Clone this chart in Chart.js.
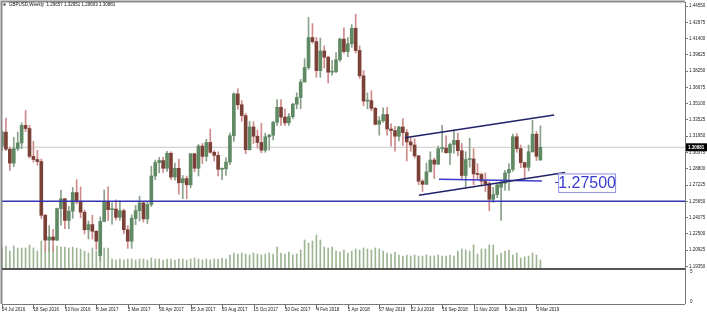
<!DOCTYPE html>
<html>
<head>
<meta charset="utf-8">
<title>GBPUSD Weekly</title>
<script src="https://cdn.jsdelivr.net/npm/chart.js@4.4.1/dist/chart.umd.min.js"></script>
<style>
  html, body { margin: 0; padding: 0; background: #fff; }
  canvas { display: block; }
</style>
</head>
<body>
<canvas id="chart" width="707" height="315"></canvas>
<script>
// weekly candles, 24 Jul 2016 .. 10 Mar 2019
const opens = [
  1.3100, 1.3235, 1.3070, 1.2935, 1.3075, 1.3130, 1.3300, 1.3270, 1.3000, 1.2970,
  1.2950, 1.2430, 1.2190, 1.2220, 1.2190, 1.2495, 1.2590, 1.2380, 1.2470, 1.2650,
  1.2560, 1.2460, 1.2290, 1.2340, 1.2275, 1.2040, 1.2370, 1.2560, 1.2485, 1.2490,
  1.2410, 1.2475, 1.2290, 1.2180, 1.2400, 1.2475, 1.2550, 1.2395, 1.2535, 1.2810,
  1.2940, 1.2960, 1.2885, 1.3030, 1.2800, 1.2885, 1.2745, 1.2785, 1.2725, 1.3025,
  1.2885, 1.3100, 1.3000, 1.3135, 1.3040, 1.3010, 1.2875, 1.2880, 1.2945, 1.3200,
  1.3605, 1.3500, 1.3395, 1.3065, 1.3285, 1.3195, 1.3135, 1.3060, 1.3190, 1.3205,
  1.3330, 1.3475, 1.3380, 1.3325, 1.3385, 1.3505, 1.3570, 1.3720, 1.3860, 1.4150,
  1.4110, 1.3830, 1.4020, 1.3960, 1.3815, 1.3820, 1.3935, 1.4135, 1.4015, 1.4090,
  1.4240, 1.4025, 1.3780, 1.3535, 1.3540, 1.3465, 1.3310, 1.3345, 1.3405, 1.3265,
  1.3250, 1.3195, 1.3285, 1.3230, 1.3140, 1.3110, 1.3005, 1.2760, 1.2730, 1.2850,
  1.2965, 1.2925, 1.3075, 1.3080, 1.3035, 1.3115, 1.3155, 1.3055, 1.2815, 1.2970,
  1.2975, 1.2830, 1.2825, 1.2760, 1.2735, 1.2585, 1.2630, 1.2700, 1.2740, 1.2840,
  1.2875, 1.3190, 1.3075, 1.2940, 1.2895, 1.3045, 1.3215, 1.29657
];
const highs = [
  1.3250, 1.3370, 1.3090, 1.3185, 1.3235, 1.3325, 1.3445, 1.3300, 1.3145, 1.3060,
  1.2975, 1.2440, 1.2330, 1.2295, 1.2500, 1.2675, 1.2595, 1.2515, 1.2700, 1.2775,
  1.2705, 1.2480, 1.2375, 1.2430, 1.2285, 1.2415, 1.2675, 1.2705, 1.2550, 1.2580,
  1.2570, 1.2490, 1.2330, 1.2435, 1.2525, 1.2615, 1.2555, 1.2565, 1.2905, 1.2965,
  1.2990, 1.2990, 1.3050, 1.3045, 1.2935, 1.2975, 1.2815, 1.2810, 1.3030, 1.3030,
  1.3115, 1.3125, 1.3165, 1.3265, 1.3055, 1.3045, 1.2890, 1.2985, 1.3225, 1.3615,
  1.3655, 1.3540, 1.3415, 1.3340, 1.3335, 1.3255, 1.3320, 1.3225, 1.3215, 1.3340,
  1.3550, 1.3550, 1.3460, 1.3415, 1.3515, 1.3615, 1.3745, 1.3945, 1.4345, 1.4285,
  1.4150, 1.4145, 1.4070, 1.3970, 1.3930, 1.4005, 1.4145, 1.4245, 1.4150, 1.4275,
  1.4377, 1.4070, 1.3830, 1.3615, 1.3635, 1.3475, 1.3385, 1.3470, 1.3475, 1.3315,
  1.3290, 1.3290, 1.3365, 1.3260, 1.3180, 1.3170, 1.3010, 1.2775, 1.2935, 1.3045,
  1.2985, 1.3100, 1.3300, 1.3200, 1.3130, 1.3255, 1.3225, 1.3125, 1.3045, 1.3175,
  1.3075, 1.2930, 1.2840, 1.2840, 1.2755, 1.2700, 1.2730, 1.2770, 1.2865, 1.2930,
  1.3215, 1.3220, 1.3110, 1.2945, 1.3110, 1.3350, 1.3240, 1.32951
];
const lows = [
  1.3055, 1.3055, 1.2865, 1.2900, 1.3055, 1.3075, 1.3240, 1.2985, 1.2945, 1.2915,
  1.2400, 1.2085, 1.2085, 1.2080, 1.2185, 1.2335, 1.2300, 1.2300, 1.2400, 1.2540,
  1.2405, 1.2250, 1.2200, 1.2200, 1.2100, 1.1986, 1.2370, 1.2380, 1.2345, 1.2385,
  1.2380, 1.2250, 1.2110, 1.2110, 1.2340, 1.2375, 1.2365, 1.2350, 1.2515, 1.2775,
  1.2840, 1.2845, 1.2855, 1.2775, 1.2770, 1.2635, 1.2590, 1.2590, 1.2695, 1.2850,
  1.2810, 1.2930, 1.2955, 1.3030, 1.2955, 1.2810, 1.2775, 1.2815, 1.2920, 1.3145,
  1.3455, 1.3340, 1.3025, 1.3060, 1.3125, 1.3080, 1.3035, 1.3040, 1.3060, 1.3160,
  1.3300, 1.3300, 1.3300, 1.3300, 1.3365, 1.3460, 1.3460, 1.3720, 1.3840, 1.4095,
  1.3765, 1.3765, 1.3855, 1.3710, 1.3785, 1.3810, 1.3920, 1.4000, 1.3965, 1.4055,
  1.4000, 1.3755, 1.3490, 1.3460, 1.3440, 1.3305, 1.3205, 1.3330, 1.3205, 1.3100,
  1.3050, 1.3150, 1.3105, 1.2955, 1.3050, 1.2985, 1.2725, 1.2660, 1.2725, 1.2850,
  1.2785, 1.2920, 1.3040, 1.3030, 1.2920, 1.3030, 1.3005, 1.2775, 1.2695, 1.2895,
  1.2725, 1.2775, 1.2715, 1.2660, 1.2475, 1.2555, 1.2600, 1.2380, 1.2670, 1.2670,
  1.2855, 1.3040, 1.2890, 1.2775, 1.2860, 1.3040, 1.2960, 1.29603
];
const closes = [
  1.3235, 1.3070, 1.2935, 1.3075, 1.3130, 1.3300, 1.3270, 1.3000, 1.2970, 1.2950,
  1.2430, 1.2190, 1.2220, 1.2190, 1.2495, 1.2590, 1.2380, 1.2470, 1.2650, 1.2560,
  1.2460, 1.2290, 1.2340, 1.2275, 1.2180, 1.2370, 1.2560, 1.2485, 1.2490, 1.2410,
  1.2475, 1.2290, 1.2180, 1.2400, 1.2475, 1.2550, 1.2395, 1.2535, 1.2810, 1.2940,
  1.2960, 1.2885, 1.3030, 1.2800, 1.2885, 1.2745, 1.2785, 1.2725, 1.3025, 1.2885,
  1.3100, 1.3000, 1.3135, 1.3040, 1.3010, 1.2875, 1.2880, 1.2945, 1.3200, 1.3605,
  1.3500, 1.3395, 1.3065, 1.3285, 1.3195, 1.3135, 1.3060, 1.3190, 1.3205, 1.3330,
  1.3475, 1.3380, 1.3325, 1.3385, 1.3505, 1.3570, 1.3720, 1.3860, 1.4150, 1.4110,
  1.3830, 1.4020, 1.3960, 1.3815, 1.3820, 1.3935, 1.4135, 1.4015, 1.4090, 1.4240,
  1.4025, 1.3780, 1.3535, 1.3540, 1.3465, 1.3310, 1.3345, 1.3405, 1.3265, 1.3250,
  1.3195, 1.3285, 1.3230, 1.3140, 1.3110, 1.3005, 1.2760, 1.2730, 1.2850, 1.2965,
  1.2925, 1.3075, 1.3080, 1.3035, 1.3115, 1.3155, 1.3055, 1.2815, 1.2970, 1.2975,
  1.2830, 1.2825, 1.2760, 1.2735, 1.2585, 1.2630, 1.2725, 1.2740, 1.2840, 1.2875,
  1.3190, 1.3075, 1.2940, 1.2895, 1.3045, 1.3215, 1.3000, 1.30881
];
// tick volume, thousands
const volumes = [
  100, 110, 85, 110, 100, 100, 100, 115, 100, 85,
  135, 110, 95, 100, 110, 105, 105, 100, 105, 100,
  95, 85, 75, 100, 85, 110, 100, 100,
  45, 40, 45, 40, 45, 45, 40, 45, 45, 40, 50, 45, 45, 40, 45,
  45, 40, 45, 45, 40, 45, 50, 45, 40, 45, 40, 45, 45, 50, 45,
  65, 75, 70, 75, 70, 65, 75, 70, 65, 70, 75, 70,
  105, 75, 70, 80, 65, 70, 90,
  140, 125, 135, 165, 140, 105, 100, 105, 85, 80, 90, 75, 85,
  95, 90, 100, 95, 90, 100, 95, 85, 75, 70, 80, 65,
  60, 65, 60, 65, 60, 60, 65, 60, 60, 65, 60, 60, 65, 60,
  85, 95, 90, 85, 115, 70, 95, 95, 115, 115, 65,
  75, 85, 90, 65, 75, 50, 55, 60, 75, 65, 40
];
// x axis labels, one every 8 weeks
const dateTicks = [
  '24 Jul 2016', '18 Sep 2016', '13 Nov 2016', '8 Jan 2017', '5 Mar 2017', '30 Apr 2017',
  '25 Jun 2017', '20 Aug 2017', '15 Oct 2017', '10 Dec 2017', '4 Feb 2018', '1 Apr 2018',
  '27 May 2018', '22 Jul 2018', '16 Sep 2018', '11 Nov 2018', '6 Jan 2019', '3 Mar 2019'
];
const priceTicks = [
  1.19350, 1.20925, 1.22500, 1.24075, 1.25650, 1.27225, 1.28800, 1.30375, 1.31950,
  1.33525, 1.35100, 1.36675, 1.38250, 1.39825, 1.41400, 1.42975, 1.44550
];
// drawn objects: trend channel, level, support
const channelUpper = [{ x: 102.5, y: 1.3180 }, { x: 140.5, y: 1.3400 }];
const channelLower = [{ x: 106.1, y: 1.2625 }, { x: 143.3, y: 1.2845 }];
const levelLine = [{ x: 111.2, y: 1.2780 }, { x: 137.4, y: 1.2761 }];
const supportLevel = 1.2565;
const levelText = '1.27500';
const levelTextPos = { x: 141.5, y: 1.2835 };

const X_MIN = 0, X_MAX = 173.8;
const BULL = '#5f8a63', BEAR = '#7b4136';
const BULL_WICK = '#8aa08a', BEAR_WICK = '#cf8a8a';
const FONT = 'Liberation Sans';

const idx = opens.map((_, i) => i);
const last = closes.length - 1;
const isUp = i => closes[i] >= opens[i];

const mtFrame = {
  id: 'mtFrame',
  afterDraw(chart) {
    const { ctx, chartArea: a, scales: { x, y } } = chart;
    const subBottom = a.bottom + 36;
    ctx.save();

    // outer frame + sub window
    ctx.strokeStyle = '#8a8a8a';
    ctx.lineWidth = 2;
    ctx.beginPath();
    ctx.moveTo(a.left - 0.5, subBottom);
    ctx.lineTo(a.left - 0.5, a.top - 0.5);
    ctx.lineTo(a.right, a.top - 0.5);
    ctx.stroke();
    ctx.lineWidth = 1;
    ctx.strokeStyle = '#777';
    ctx.beginPath();
    ctx.moveTo(a.right + 0.5, a.bottom);
    ctx.lineTo(a.right + 0.5, subBottom);
    ctx.moveTo(a.left, subBottom + 0.5);
    ctx.lineTo(a.right, subBottom + 0.5);
    ctx.stroke();
    ctx.strokeStyle = '#555';
    ctx.lineWidth = 2;
    ctx.beginPath();
    ctx.moveTo(a.left, a.bottom + 1);
    ctx.lineTo(a.right, a.bottom + 1);
    ctx.stroke();

    // x tick marks
    ctx.strokeStyle = '#666';
    ctx.lineWidth = 1;
    ctx.beginPath();
    dateTicks.forEach((_, k) => {
      const px = Math.round(x.getPixelForValue(k * 8)) + 0.5;
      ctx.moveTo(px, subBottom + 1);
      ctx.lineTo(px, subBottom + 5);
    });
    ctx.stroke();

    ctx.font = `4.5px "${FONT}"`;
    ctx.fillStyle = '#222';
    ctx.textBaseline = 'middle';
    ctx.textAlign = 'left';
    ctx.fillText('5', a.right + 5, a.bottom + 4);
    ctx.fillText('0', a.right + 5, subBottom - 2);

    // header
    ctx.fillStyle = '#333';
    ctx.fillRect(3.5, 3.5, 2, 2);
    ctx.fillStyle = '#111';
    ctx.fillText(`GBPUSD,Weekly  ${opens[last].toFixed(5)} ${highs[last].toFixed(5)} ${lows[last].toFixed(5)} ${closes[last].toFixed(5)}`, 9, 5);

    // level label box
    const bx = x.getPixelForValue(levelTextPos.x);
    const by = y.getPixelForValue(levelTextPos.y);
    ctx.fillStyle = '#fff';
    ctx.fillRect(bx, by, 57, 18.5);
    ctx.strokeStyle = '#8f8fe0';
    ctx.lineWidth = 1;
    ctx.strokeRect(bx + 0.5, by + 0.5, 57, 18.5);
    ctx.strokeStyle = '#3c3cd0';
    ctx.beginPath();
    ctx.moveTo(bx - 3, by + 9);
    ctx.lineTo(bx, by + 9);
    ctx.stroke();
    ctx.fillStyle = '#3a3ad2';
    ctx.font = `16px "${FONT}"`;
    ctx.textAlign = 'center';
    ctx.fillText(levelText, bx + 29, by + 10);

    // current price tag
    const py = y.getPixelForValue(closes[last]);
    ctx.fillStyle = '#000';
    ctx.fillRect(a.right + 1, py - 4, 707 - a.right, 8);
    ctx.fillStyle = '#fff';
    ctx.font = `bold 4.5px "${FONT}"`;
    ctx.textAlign = 'left';
    ctx.fillText(closes[last].toFixed(5), a.right + 3, py);
    ctx.restore();
  }
};

new Chart(document.getElementById('chart'), {
  type: 'bar',
  data: {
    datasets: [
      {
        label: 'Body',
        data: idx.map(i => ({ x: i, y: [opens[i], closes[i]] })),
        backgroundColor: idx.map(i => isUp(i) ? BULL : BEAR),
        barThickness: 3,
        minBarLength: 1,
        grouped: false,
        order: 2
      },
      {
        label: 'Wick',
        data: idx.map(i => ({ x: i, y: [lows[i], highs[i]] })),
        backgroundColor: idx.map(i => isUp(i) ? BULL_WICK : BEAR_WICK),
        barThickness: 1,
        grouped: false,
        order: 3
      },
      {
        label: 'Volume',
        data: idx.map(i => ({ x: i, y: volumes[i] })),
        backgroundColor: '#9db592',
        barThickness: 1,
        grouped: false,
        yAxisID: 'yv',
        order: 4
      },
      {
        type: 'line', label: 'Price',
        data: [{ x: X_MIN, y: closes[last] }, { x: X_MAX, y: closes[last] }],
        borderColor: '#c8c8c8', borderWidth: 1, pointRadius: 0, order: 5
      },
      {
        type: 'line', label: 'Support',
        data: [{ x: X_MIN, y: supportLevel }, { x: X_MAX, y: supportLevel }],
        borderColor: '#3434b4', borderWidth: 1.5, pointRadius: 0, order: 1
      },
      {
        type: 'line', label: 'Upper',
        data: channelUpper,
        borderColor: '#22226a', borderWidth: 1.5, pointRadius: 0, order: 1
      },
      {
        type: 'line', label: 'Lower',
        data: channelLower,
        borderColor: '#22226a', borderWidth: 1.5, pointRadius: 0, order: 1
      },
      {
        type: 'line', label: 'Level',
        data: levelLine,
        borderColor: '#3c3cd0', borderWidth: 1.5, pointRadius: 0, order: 1
      }
    ]
  },
  options: {
    responsive: false,
    animation: false,
    devicePixelRatio: 1,
    layout: { padding: { top: 2, left: 2, right: 0, bottom: 0 } },
    plugins: { legend: { display: false }, tooltip: { enabled: false } },
    scales: {
      x: {
        type: 'linear',
        min: X_MIN,
        max: X_MAX,
        offset: false,
        border: { display: false },
        grid: { drawOnChartArea: false, drawTicks: true, tickLength: 37, color: 'rgba(0,0,0,0)' },
        afterBuildTicks: s => { s.ticks = dateTicks.map((_, k) => ({ value: k * 8 })); },
        afterFit: s => { s.height = 47; s.paddingLeft = 0; s.paddingRight = 0; },
        ticks: {
          autoSkip: false,
          maxRotation: 0,
          align: 'start',
          padding: 2,
          color: '#222',
          font: { family: FONT, size: 4.5 },
          callback: (v, k) => dateTicks[k]
        }
      },
      y: {
        position: 'right',
        min: 1.1920,
        max: 1.4494,
        border: { color: '#777' },
        grid: { drawOnChartArea: false, tickLength: 3, color: '#777' },
        afterBuildTicks: s => { s.ticks = priceTicks.map(v => ({ value: v })); },
        afterFit: s => { s.width = 22; s.paddingTop = 0; s.paddingBottom = 0; },
        ticks: {
          padding: 1,
          color: '#222',
          font: { family: FONT, size: 4.5 },
          callback: v => v.toFixed(5)
        }
      },
      yv: {
        display: false,
        min: 0,
        max: 1330
      }
    }
  },
  plugins: [mtFrame]
});
</script>
</body>
</html>
